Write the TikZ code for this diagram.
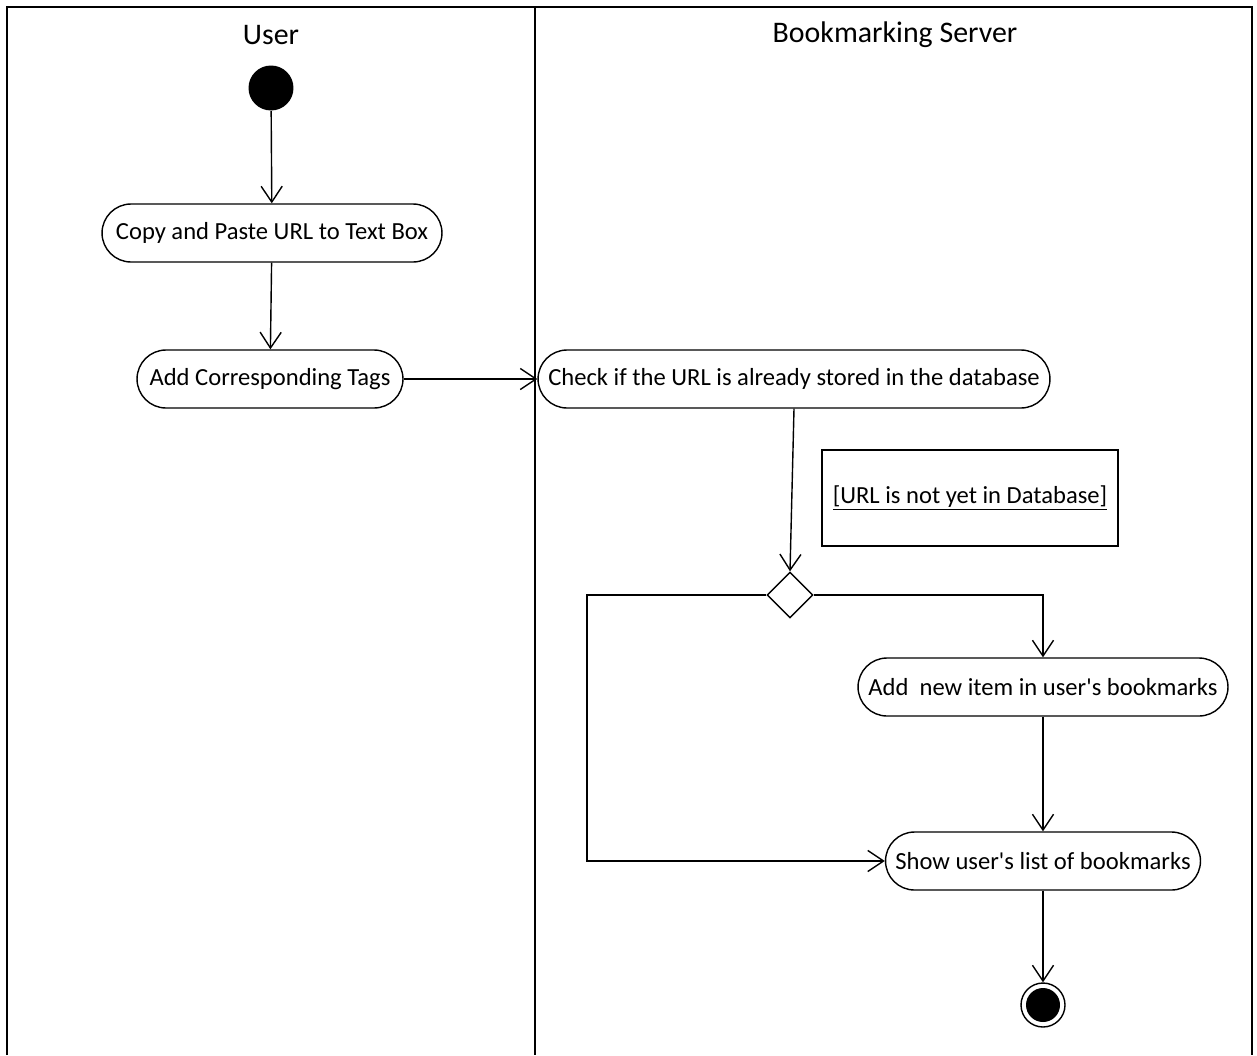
\documentclass[tikz,border=0pt]{standalone}
\usepackage{fontspec}
\setmainfont{Carlito}
\usepackage{tikz}
\usetikzlibrary{arrows.meta,shapes.geometric}

\tikzset{
	action/.style={draw, line width=0.8pt, rounded corners=0.58cm, minimum height=1.16cm, inner sep=2pt, font=\fontsize{14}{16}\selectfont},
	flow/.style={line width=0.8pt, -{Straight Barb[length=9pt,width=12pt,line width=0.8pt]}},
	lane/.style={line width=1.1pt}
}

\begin{document}
\begin{tikzpicture}[x=0.02cm, y=-0.02cm]
			\useasboundingbox (0,0) rectangle (1257,1055);
			% swimlanes
			\draw[lane] (7,1055) |- (1252,7) -- (1252,1055);
			\draw[lane] (535,7) -- (535,1055);
			\node[font=\fontsize{17}{20}\selectfont] (user) at (271,35) {User};
			\node[font=\fontsize{17}{20}\selectfont] (server) at (895,35) {Bookmarking Server};
			% actions
			\node[circle, fill, minimum size=0.9cm, inner sep=0] (start) at (271,88) {};
			\node[action, minimum width=6.8cm] (copy) at (272,233) {Copy and Paste URL to Text Box};
			\node[action, minimum width=5.32cm] (tags) at (270,379) {Add Corresponding Tags};
			\node[action, minimum width=10.24cm] (check) at (794,379) {Check if the URL is already stored in the database};
			\node[draw, diamond, aspect=1, line width=0.8pt, minimum size=0.92cm, inner sep=0] (dec) at (790,595) {};
			\node[draw, line width=0.8pt, minimum width=5.92cm, minimum height=1.92cm, font=\fontsize{14}{16}\selectfont] (guard) at (970,498) {\underline{[URL is not yet in Database]}};
			\node[action, minimum width=7.4cm] (add) at (1043,687) {Add \ new item in user\textquotesingle s bookmarks};
			\node[action, minimum width=6.3cm] (show) at (1043,861) {Show user\textquotesingle s list of bookmarks};
			\node[circle, draw, line width=0.8pt, minimum size=0.88cm, inner sep=0, path picture={\fill (path picture bounding box.center) circle (0.34cm);}] (stop) at (1043,1005) {};
			% flows
			\draw[flow] (start) -- (copy);
			\draw[flow] (copy) -- (tags);
			\draw[flow] (tags) -- (check);
			\draw[flow] (check.south) -- (dec.north);
			\draw[flow] (dec.east) -| (add.north);
			\draw[flow] (add) -- (show);
			\draw[flow] (dec.west) -- (587,595) |- (show.west);
			\draw[flow] (show) -- (stop);
		\end{tikzpicture}
\end{document}
